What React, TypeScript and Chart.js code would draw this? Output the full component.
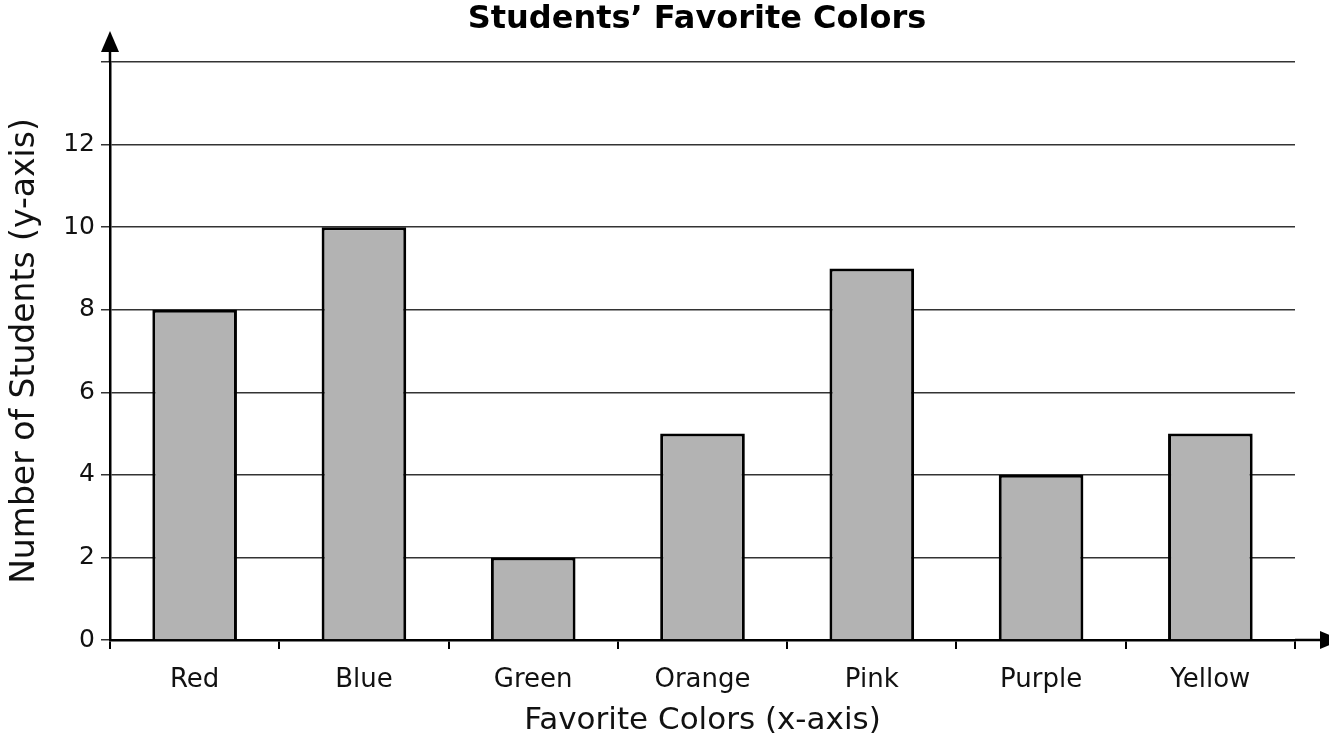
import React, { useEffect, useRef } from "react";
import { Chart, registerables } from "chart.js";

Chart.register(...registerables);

const categories = ["Red", "Blue", "Green", "Orange", "Pink", "Purple", "Yellow"];
const studentCounts = [8, 10, 2, 5, 9, 4, 5];
const yTickValues = [0, 2, 4, 6, 8, 10, 12];
const chartTitle = "Students\u2019 Favorite Colors";
const xAxisTitle = "Favorite Colors (x-axis)";
const yAxisTitle = "Number of Students (y-axis)";

const FONT = "'DejaVu Sans', sans-serif";

// Draws the title and the arrowheads on both axes.
const axisArrows = {
  id: "axisArrows",
  afterDraw(chart: any) {
    const { ctx, chartArea } = chart;
    const x0 = chartArea.left;
    const y0 = chartArea.bottom;
    ctx.save();
    ctx.strokeStyle = "#000";
    ctx.fillStyle = "#000";
    ctx.lineWidth = 2.5;
    // vertical axis extension + arrow
    ctx.beginPath();
    ctx.moveTo(x0, chartArea.top);
    ctx.lineTo(x0, 50);
    ctx.stroke();
    ctx.beginPath();
    ctx.moveTo(x0, 31);
    ctx.lineTo(x0 - 9, 52);
    ctx.lineTo(x0 + 9, 52);
    ctx.closePath();
    ctx.fill();
    // horizontal axis extension + arrow
    ctx.beginPath();
    ctx.moveTo(chartArea.right, y0);
    ctx.lineTo(1322, y0);
    ctx.stroke();
    ctx.beginPath();
    ctx.moveTo(1341, y0);
    ctx.lineTo(1320, y0 - 9);
    ctx.lineTo(1320, y0 + 9);
    ctx.closePath();
    ctx.fill();
    // title
    ctx.font = `bold 32px ${FONT}`;
    ctx.textAlign = "center";
    ctx.textBaseline = "middle";
    ctx.fillText(chartTitle, 697, 20);
    ctx.restore();
  },
};

export default function App() {
  const canvasRef = useRef<HTMLCanvasElement>(null);

  useEffect(() => {
    document.body.style.margin = "0";
    const chart = new Chart(canvasRef.current!, {
      type: "bar",
      data: {
        labels: categories,
        datasets: [
          {
            data: studentCounts,
            backgroundColor: "#b3b3b3",
            borderColor: "#000",
            borderWidth: 3,
            barPercentage: 0.5,
            categoryPercentage: 1,
          },
        ],
      },
      options: {
        animation: false,
        responsive: false,
        maintainAspectRatio: false,
        layout: { padding: { top: 62, right: 34, left: 0, bottom: 0 } },
        plugins: {
          legend: { display: false },
          title: { display: false },
          tooltip: { enabled: false },
        },
        scales: {
          x: {
            grid: {
              offset: true,
              drawOnChartArea: false,
              drawTicks: true,
              tickLength: 9,
              color: "#000",
              lineWidth: 2,
            },
            border: { display: true, color: "#000", width: 2.5 },
            ticks: {
              color: "#111",
              font: { family: FONT, size: 26 },
              padding: 16,
            },
            title: {
              display: true,
              text: xAxisTitle,
              color: "#111",
              font: { family: FONT, size: 31 },
              padding: { top: 4, bottom: 12 },
            },
            afterFit(scale: any) {
              scale.height = 112;
            },
          },
          y: {
            min: 0,
            max: 14,
            afterBuildTicks(scale: any) {
              scale.ticks = [...yTickValues, 14].map((v) => ({ value: v }));
            },
            grid: {
              color: "#333",
              lineWidth: 1.5,
              tickLength: 9,
            },
            border: { display: true, color: "#000", width: 2.5 },
            ticks: {
              color: "#111",
              font: { family: FONT, size: 25 },
              padding: 6,
              callback: (v: any) => (yTickValues.includes(Number(v)) ? String(v) : ""),
            },
            title: {
              display: true,
              text: yAxisTitle,
              color: "#111",
              font: { family: FONT, size: 33 },
              padding: { top: 6, bottom: 4 },
            },
            afterFit(scale: any) {
              scale.width = 110;
            },
          },
        },
      },
      plugins: [axisArrows],
    });
    return () => chart.destroy();
  }, []);

  return <canvas ref={canvasRef} width={1329} height={752} style={{ display: "block" }} />;
}
